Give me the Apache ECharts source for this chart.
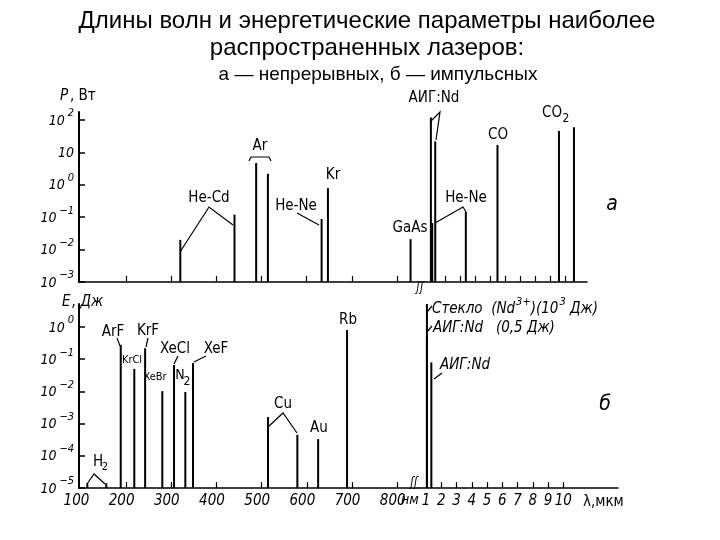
<!DOCTYPE html>
<html>
<head>
<meta charset="utf-8">
<script src="https://cdn.jsdelivr.net/npm/echarts@6.0.0/dist/echarts.min.js"></script>
<style>html,body{margin:0;padding:0;background:#fff;}#chart{width:720px;height:540px;}</style>
</head>
<body>
<div id="chart"></div>
<script>
// ---------------- data ----------------
// (a) continuous lasers, nm part
const cwNmLasers = ['He-Cd', 'He-Cd', 'Ar', 'Ar', 'He-Ne', 'Kr', 'GaAs'];
const cwNmWavelength = [320, 440, 488, 514, 633, 647, 830];
const cwNmPower = [0.020, 0.12, 4.7, 2.2, 0.088, 0.79, 0.021];
// (a) continuous lasers, µm part
const cwUmLasers = ['АИГ:Nd', 'He-Ne', 'АИГ:Nd', 'He-Ne', 'CO', 'CO2', 'CO2'];
const cwUmWavelength = [1.06, 1.15, 1.35, 3.39, 5.5, 9.6, 10.6];
const cwUmPower = [120, 0.066, 22, 0.145, 17, 46, 60];
// (б) pulsed lasers, nm part
const pulseNmLasers = ['H2', 'H2', 'ArF', 'KrCl', 'KrF', 'XeBr', 'XeCl', 'N2', 'XeF', 'Cu', 'Cu', 'Au', 'Rb'];
const pulseNmWavelength = [114, 156, 188, 218, 242, 280, 306, 331, 348, 514, 579, 625, 689];
const pulseNmEnergy = [1.4e-5, 1.4e-5, 0.28, 0.05, 0.22, 0.0102, 0.066, 0.0096, 0.076, 0.0016, 0.00045, 0.00033, 0.81];
// (б) pulsed lasers, µm part
const pulseUmLasers = ['Стекло (Nd3+)', 'АИГ:Nd', 'АИГ:Nd'];
const pulseUmWavelength = [1.06, 1.06, 1.35];
const pulseUmEnergy = [1000, 0.5, 0.08];
// ticks
const nmTickValues = [200, 300, 400, 500, 600, 700, 800];
const nmLabelValues = [100, 200, 300, 400, 500, 600, 700, 800];
const umTickValues = [2, 3, 4, 5, 6, 7, 8, 9, 10];
const umLabelValues = [1, 2, 3, 4, 5, 6, 7, 8, 9, 10];
const powerTickValues = [0.001, 0.01, 0.1, 1, 10, 100];
const energyTickValues = [1e-5, 1e-4, 1e-3, 1e-2, 1e-1, 1];

// ---------------- chart ----------------
const FONT = "'DejaVu Sans Condensed','Liberation Sans Narrow','DejaVu Sans',sans-serif";
const TFONT = "'Liberation Sans',Arial,sans-serif";
const chart = echarts.init(document.getElementById('chart'), null, { renderer: 'canvas' });

const P_MIN = 0.001, P_MAX = 177;
const E_MIN = 1e-5, E_MAX = 5.2;

function powLabel(v) {
  const e = Math.round(Math.log10(v));
  if (e === 1) return '{b|10}';
  return '{b|10}{s|' + (e < 0 ? '−' + (-e) : String(e)) + '}';
}
const powRich = {
  b: { fontFamily: FONT, fontStyle: 'italic', fontSize: 14, color: '#000', verticalAlign: 'bottom', lineHeight: 16 },
  s: { fontFamily: FONT, fontStyle: 'italic', fontSize: 11, color: '#000', verticalAlign: 'bottom', lineHeight: 11, padding: [0, 0, 9, 3] }
};

function yAxis(gi, min, max, ticks, show) {
  return {
    type: 'log', logBase: 10, gridIndex: gi, min: min, max: max, show: show,
    axisLine: { show: true, onZero: false, lineStyle: { color: '#000', width: 2 } },
    axisTick: { show: true, inside: true, length: 6, lineStyle: { color: '#000', width: 1.5 }, customValues: ticks },
    axisLabel: { show: true, customValues: ticks, formatter: powLabel, margin: 5, rich: powRich },
    splitLine: { show: false }
  };
}
function xAxis(gi, min, max, ticks, labels, shiftPad) {
  return {
    type: 'value', gridIndex: gi, min: min, max: max,
    axisLine: { show: true, onZero: false, lineStyle: { color: '#000', width: 1.5 } },
    axisTick: { show: true, inside: true, length: 6, lineStyle: { color: '#000', width: 1.2 }, customValues: ticks },
    axisLabel: labels ? { show: true, customValues: labels, margin: 6, color: '#000', padding: [0, shiftPad, 0, 0],
      fontFamily: FONT, fontStyle: 'italic', fontSize: 15, formatter: v => String(v) } : { show: false },
    splitLine: { show: false }
  };
}
function stems(idx, waves, vals, yMin) {
  return {
    type: 'custom', xAxisIndex: idx, yAxisIndex: idx, silent: true, clip: false,
    data: waves.map((w, i) => [w, vals[i]]),
    renderItem: function (params, api) {
      const x = api.value(0);
      const topPt = api.coord([x, api.value(1)]);
      const basePt = api.coord([x, yMin]);
      const yTop = Math.max(topPt[1], params.coordSys.y);
      return { type: 'line', shape: { x1: topPt[0], y1: basePt[1], x2: topPt[0], y2: yTop },
        style: { stroke: '#000', lineWidth: 2 } };
    }
  };
}

function txt(x, y, s, opt) {
  opt = opt || {};
  return { type: 'text', x: x, y: y, silent: true, z: 10,
    style: { text: s, fill: '#000', align: opt.align || 'center', verticalAlign: opt.va || 'middle',
      font: (opt.italic ? 'italic ' : '') + (opt.size || 15) + 'px ' + (opt.family || FONT) } };
}
function poly(points) {
  return { type: 'polyline', silent: true, z: 10, shape: { points: points },
    style: { stroke: '#000', lineWidth: 1.2, fill: null } };
}

const graphics = [
  // title
  txt(367, 21, 'Длины волн и энергетические параметры наиболее', { size: 24, family: TFONT }),
  txt(367, 48, 'распространенных лазеров:', { size: 24, family: TFONT }),
  txt(378, 75, 'а — непрерывных, б — импульсных', { size: 19, family: TFONT }),
  // top panel
  txt(60, 96, 'P', { italic: true, align: 'left' }),
  txt(70, 96, ', Вт', { align: 'left' }),
  txt(209, 198, 'He-Cd'),
  poly([[180, 252], [209, 207], [233, 225]]),
  txt(260, 146, 'Ar'),
  poly([[249, 161], [251, 157], [269, 157], [271, 161]]),
  txt(296, 206, 'He-Ne'),
  poly([[297, 213], [319, 225]]),
  txt(333, 175, 'Kr'),
  txt(410, 228, 'GaAs'),
  txt(434, 98, 'АИГ:Nd'),
  poly([[430, 122], [440, 112], [436, 140]]),
  txt(466, 198, 'He-Ne'),
  poly([[435, 223], [463, 207], [466, 212]]),
  txt(498, 135, 'CO'),
  txt(552, 113, 'CO'),
  txt(566, 119, '2', { size: 12 }),
  txt(612, 205, 'а', { italic: true, size: 21 }),
  txt(420, 288, 'ʃʃ', { italic: true, size: 12 }),
  // bottom panel
  txt(62, 302, 'E', { italic: true, align: 'left' }),
  txt(72, 302, ', Дж', { italic: true, align: 'left' }),
  txt(98, 462, 'H'),
  txt(105, 467, '2', { size: 11 }),
  poly([[87, 484], [94, 474], [105, 484]]),
  txt(113, 332, 'ArF'),
  poly([[117, 338], [120, 346]]),
  txt(148, 331, 'KrF'),
  poly([[148, 338], [146, 347]]),
  txt(132, 360, 'KrCl', { size: 11 }),
  txt(175, 349, 'XeCl'),
  poly([[178, 356], [174, 364]]),
  txt(216, 349, 'XeF'),
  poly([[206, 356], [194, 362]]),
  txt(155, 377, 'XeBr', { size: 11 }),
  txt(180, 375, 'N', { size: 14 }),
  txt(187, 382, '2', { size: 12 }),
  txt(283, 404, 'Cu'),
  poly([[268, 427], [283, 413], [297, 433]]),
  txt(319, 428, 'Au'),
  txt(348, 320, 'Rb'),
  { type: 'text', x: 432, y: 309, silent: true, z: 10, style: {
      text: '{r|Стекло  (Nd}{u|3+}{r|)(10}{u|3}{r| Дж)}', align: 'left', verticalAlign: 'middle',
      rich: {
        r: { fontFamily: FONT, fontStyle: 'italic', fontSize: 15, fill: '#000', verticalAlign: 'bottom', lineHeight: 16 },
        u: { fontFamily: FONT, fontStyle: 'italic', fontSize: 11, fill: '#000', verticalAlign: 'bottom', lineHeight: 11, padding: [0, 0, 9, 1] }
      } } },
  poly([[427, 312], [432, 306]]),
  txt(433, 328, 'АИГ:Nd   (0,5 Дж)', { italic: true, align: 'left' }),
  poly([[427, 332], [432, 326]]),
  txt(440, 365, 'АИГ:Nd', { italic: true, align: 'left' }),
  poly([[434, 379], [442, 373]]),
  txt(605, 405, 'б', { italic: true, size: 21 }),
  txt(414, 483, 'ʃʃ', { italic: true, size: 12 }),
  txt(401, 500, 'нм', { italic: true, align: 'left', size: 14 }),
  txt(583, 502, 'λ,мкм', { align: 'left' })
];

const option = {
  animation: false,
  backgroundColor: '#fff',
  grid: [
    { left: 79, top: 112, width: 340, height: 170, outerBoundsMode: 'none' },
    { left: 419, top: 112, width: 168, height: 170, outerBoundsMode: 'none' },
    { left: 79, top: 304, width: 339, height: 184, outerBoundsMode: 'none' },
    { left: 418, top: 304, width: 200, height: 184, outerBoundsMode: 'none' }
  ],
  xAxis: [
    xAxis(0, 95.6, 848.7, nmTickValues, null, 0),
    xAxis(1, 0.267, 11.47, umTickValues, null, 0),
    xAxis(2, 95.6, 846.1, nmTickValues, nmLabelValues, 9),
    xAxis(3, 0.475, 13.59, umTickValues, umLabelValues, 0)
  ],
  yAxis: [
    yAxis(0, P_MIN, P_MAX, powerTickValues, true),
    yAxis(1, P_MIN, P_MAX, powerTickValues, false),
    yAxis(2, E_MIN, E_MAX, energyTickValues, true),
    yAxis(3, E_MIN, E_MAX, energyTickValues, false)
  ],
  series: [
    stems(0, cwNmWavelength, cwNmPower, P_MIN),
    stems(1, cwUmWavelength, cwUmPower, P_MIN),
    stems(2, pulseNmWavelength, pulseNmEnergy, E_MIN),
    stems(3, pulseUmWavelength, pulseUmEnergy, E_MIN)
  ],
  graphic: graphics
};
chart.setOption(option);
</script>
</body>
</html>
